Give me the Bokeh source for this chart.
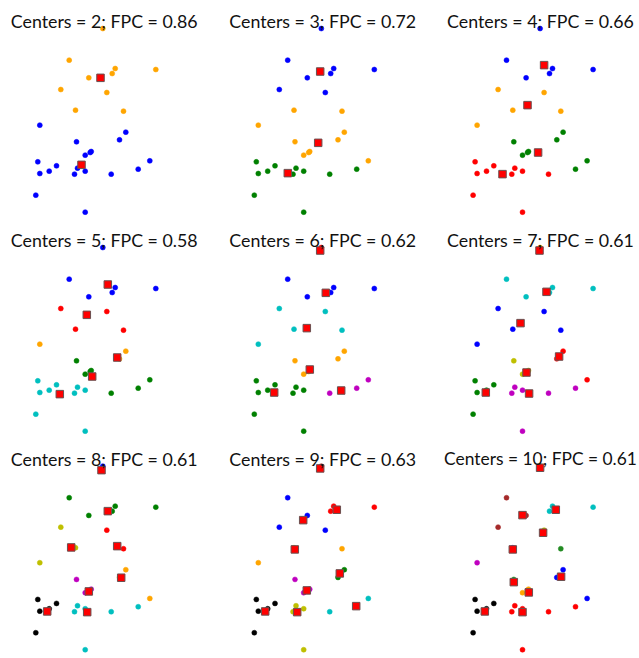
from bokeh.plotting import figure
from bokeh.layouts import gridplot
from bokeh.models import Range1d, Label, ColumnDataSource
from bokeh.embed import file_html
from bokeh.resources import INLINE

# ---- data (sample points) ----
x_vals = [10.23, 6.87, 11.47, 15.53, 11.17, 8.83, 6.03, 10.63, 7.50, 12.30,
          3.93, 12.53, 11.90, 7.60, 9.07, 8.97, 8.47, 3.73, 14.93, 5.60,
          7.70, 13.77, 4.87, 3.93, 8.47, 7.40, 11.07, 3.53, 8.47]
y_vals = [20.53, 17.37, 16.53, 16.43, 16.03, 15.60, 14.43, 14.13, 12.37, 12.27,
          10.87, 10.17, 9.40, 9.20, 8.23, 8.13, 7.87, 7.20, 7.30, 6.80,
          6.57, 6.47, 6.27, 6.03, 6.27, 5.97, 5.97, 3.87, 2.17]

n_centers = [2, 3, 4, 5, 6, 7, 8, 9, 10]
fpc_vals = [0.86, 0.72, 0.66, 0.58, 0.62, 0.61, 0.61, 0.63, 0.61]

palette = ["#0000ff", "#ffa500", "#008000", "#ff0000", "#00bfbf",
           "#bf00bf", "#bfbf00", "#000000", "#a52a2a", "#228b22"]

labels_c2 = [1, 1, 1, 1, 1, 1, 1, 1, 1, 1, 0, 0, 0, 0, 0, 0, 0, 0, 0, 0, 0, 0, 0, 0, 0, 0, 0, 0, 0]
labels_c3 = [0, 0, 0, 0, 0, 0, 0, 0, 1, 1, 1, 1, 1, 1, 1, 1, 1, 2, 1, 2, 2, 2, 2, 2, 2, 2, 2, 2, 2]
labels_c4 = [0, 0, 0, 0, 0, 0, 1, 1, 1, 1, 1, 2, 2, 2, 2, 2, 2, 3, 2, 3, 3, 2, 3, 3, 3, 3, 3, 3, 3]
labels_c5 = [0, 0, 0, 0, 0, 0, 3, 3, 3, 3, 1, 1, 1, 2, 2, 2, 2, 4, 2, 4, 4, 2, 4, 4, 4, 4, 2, 4, 4]
labels_c6 = [3, 0, 0, 0, 0, 0, 4, 4, 4, 4, 4, 1, 1, 1, 1, 1, 1, 2, 5, 2, 2, 5, 2, 2, 2, 2, 5, 2, 2]
labels_c7 = [1, 4, 4, 4, 4, 4, 0, 0, 0, 0, 0, 3, 3, 6, 6, 6, 6, 2, 3, 2, 5, 5, 2, 2, 5, 5, 5, 2, 5]
labels_c8 = [0, 2, 2, 2, 2, 2, 6, 3, 6, 3, 6, 1, 1, 5, 5, 5, 5, 7, 1, 7, 4, 4, 7, 7, 4, 4, 4, 7, 4]
labels_c9 = [8, 0, 3, 3, 3, 0, 0, 0, 1, 1, 1, 2, 2, 5, 5, 5, 5, 7, 4, 7, 6, 4, 7, 7, 6, 6, 4, 7, 6]
labels_c10 = [2, 8, 4, 4, 4, 8, 8, 6, 5, 9, 5, 0, 0, 9, 1, 1, 1, 7, 0, 7, 3, 3, 7, 7, 3, 3, 3, 7, 3]

cx_c2 = [10.00, 8.10]
cy_c2 = [15.60, 6.90]
cx_c3 = [10.12, 9.92, 6.88]
cy_c3 = [16.23, 9.10, 6.07]
cx_c4 = [10.63, 8.97, 10.03, 6.47]
cy_c4 = [16.87, 12.87, 8.13, 5.97]
cx_c5 = [10.73, 8.63, 11.67, 9.17, 5.93]
cy_c5 = [16.83, 13.80, 9.53, 7.63, 5.87]
cx_c6 = [10.12, 10.68, 8.78, 9.08, 5.52, 12.22]
cy_c6 = [20.23, 16.00, 12.47, 8.33, 6.03, 6.23]
cx_c7 = [10.17, 10.87, 8.27, 12.13, 8.87, 4.80, 9.13]
cy_c7 = [20.23, 16.10, 12.97, 9.63, 8.03, 6.03, 5.93]
cx_c8 = [10.10, 10.73, 7.07, 11.67, 12.07, 8.83, 4.67, 8.67]
cy_c8 = [20.13, 16.03, 12.40, 12.53, 9.37, 8.00, 6.00, 5.93]
cx_c9 = [10.12, 11.78, 8.42, 7.58, 12.08, 8.78, 4.62, 7.82, 13.72]
cy_c9 = [20.30, 16.17, 15.13, 12.20, 9.80, 8.10, 6.00, 5.93, 6.53]
cx_c10 = [10.23, 11.80, 8.47, 10.53, 7.50, 12.33, 7.60, 9.10, 4.70, 8.47]
cy_c10 = [20.37, 16.17, 15.63, 13.87, 12.20, 9.47, 8.93, 7.90, 6.00, 5.93]

all_labels = [labels_c2, labels_c3, labels_c4, labels_c5, labels_c6,
              labels_c7, labels_c8, labels_c9, labels_c10]
all_cx = [cx_c2, cx_c3, cx_c4, cx_c5, cx_c6, cx_c7, cx_c8, cx_c9, cx_c10]
all_cy = [cy_c2, cy_c3, cy_c4, cy_c5, cy_c6, cy_c7, cy_c8, cy_c9, cy_c10]

# ---- layout ----
FW, FH = 213, 219
PX_PER_UNIT = 10.0
col_shift = [0.0, 218.5, 437.3]
row_shift = [0.0, 219.0, 437.6]
title_center = [103.7, 322.2, 540.0]
TOP_REF = 233.33

figs = []
for i in range(9):
    r, c = divmod(i, 3)
    xs = (c * FW - col_shift[c]) / PX_PER_UNIT
    ye = (TOP_REF + row_shift[r] - r * FH) / PX_PER_UNIT
    p = figure(width=FW, height=FH, output_backend="svg", toolbar_location=None,
               x_range=Range1d(xs, xs + FW / PX_PER_UNIT),
               y_range=Range1d(ye - FH / PX_PER_UNIT, ye),
               x_axis_location=None, y_axis_location=None,
               min_border=0, outline_line_color=None,
               background_fill_color="white", border_fill_color="white")
    p.grid.visible = False
    cols = [palette[k] for k in all_labels[i]]
    src = ColumnDataSource(dict(x=x_vals, y=y_vals, color=cols))
    p.scatter("x", "y", source=src, size=5, fill_color="color",
              line_color="color", line_width=0.5)
    p.scatter(all_cx[i], all_cy[i], marker="square", size=7.5,
              fill_color="#ff0000", line_color="#6a5050", line_width=1)
    title = "Centers = %d; FPC = %.2f" % (n_centers[i], fpc_vals[i])
    tx = title_center[c] - c * FW
    ty = FH - (20.5 + row_shift[r] - r * FH)
    fs = "17.8px" if n_centers[i] < 10 else "17.4px"
    p.add_layout(Label(x=tx, y=ty, x_units="screen", y_units="screen",
                       text=title, text_align="center", text_baseline="alphabetic",
                       text_font="Lato", text_font_size=fs,
                       text_color="#111111"))
    figs.append(p)

grid = gridplot([figs[0:3], figs[3:6], figs[6:9]], toolbar_location=None)

open("out.html", "w").write(file_html(grid, INLINE))
